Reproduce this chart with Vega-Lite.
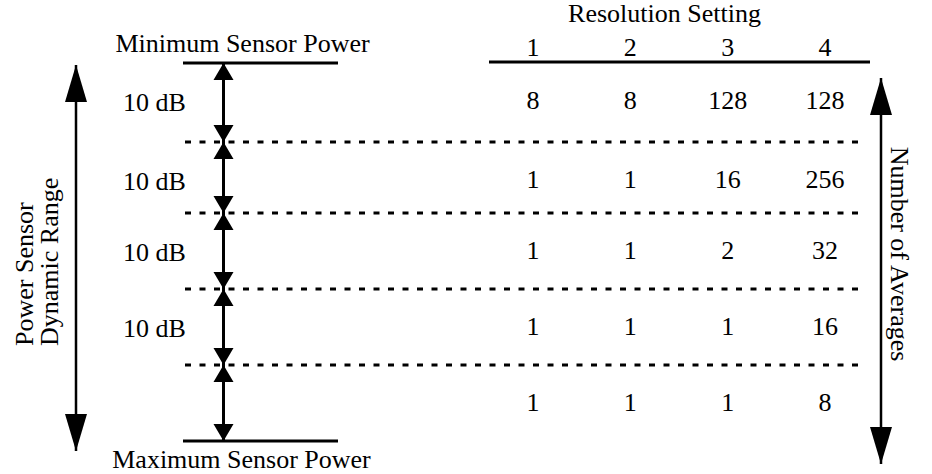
{
  "$schema": "https://vega.github.io/schema/vega-lite/v6.json",
  "width": 932,
  "height": 474,
  "padding": 0,
  "autosize": {"type": "none"},
  "background": "white",
  "config": {
    "view": {"stroke": null},
    "text": {"font": "Liberation Serif", "fontSize": 26, "color": "black"},
    "rule": {"color": "black"},
    "point": {"color": "black", "filled": true, "opacity": 1, "strokeWidth": 0}
  },
  "datasets": {
    "averages": [
      {"setting": 1, "from_dB": 0, "averages": 8},
      {"setting": 2, "from_dB": 0, "averages": 8},
      {"setting": 3, "from_dB": 0, "averages": 128},
      {"setting": 4, "from_dB": 0, "averages": 128},
      {"setting": 1, "from_dB": 10, "averages": 1},
      {"setting": 2, "from_dB": 10, "averages": 1},
      {"setting": 3, "from_dB": 10, "averages": 16},
      {"setting": 4, "from_dB": 10, "averages": 256},
      {"setting": 1, "from_dB": 20, "averages": 1},
      {"setting": 2, "from_dB": 20, "averages": 1},
      {"setting": 3, "from_dB": 20, "averages": 2},
      {"setting": 4, "from_dB": 20, "averages": 32},
      {"setting": 1, "from_dB": 30, "averages": 1},
      {"setting": 2, "from_dB": 30, "averages": 1},
      {"setting": 3, "from_dB": 30, "averages": 1},
      {"setting": 4, "from_dB": 30, "averages": 16},
      {"setting": 1, "from_dB": 40, "averages": 1},
      {"setting": 2, "from_dB": 40, "averages": 1},
      {"setting": 3, "from_dB": 40, "averages": 1},
      {"setting": 4, "from_dB": 40, "averages": 8}
    ],
    "steps": [
      {"from_dB": 0, "to_dB": 10, "label": "10 dB"},
      {"from_dB": 10, "to_dB": 20, "label": "10 dB"},
      {"from_dB": 20, "to_dB": 30, "label": "10 dB"},
      {"from_dB": 30, "to_dB": 40, "label": "10 dB"},
      {"from_dB": 40, "to_dB": 50, "label": null}
    ],
    "limits": [
      {"label": "Minimum Sensor Power", "dB": 0},
      {"label": "Maximum Sensor Power", "dB": 50}
    ],
    "arrows": [
      {"name": "Power Sensor Dynamic Range", "from_dB": 0, "to_dB": 50},
      {"name": "Number of Averages", "from_dB": 0, "to_dB": 50}
    ],
    "axisLabels": [
      {"side": "left", "line": 1, "text": "Power Sensor"},
      {"side": "left", "line": 2, "text": "Dynamic Range"},
      {"side": "right", "line": 1, "text": "Number of Averages"}
    ],
    "heading": [{"text": "Resolution Setting"}]
  },
  "resolve": {"scale": {"x": "independent"}},
  "layer": [
    {
      "data": {"name": "steps"},
      "transform": [{"filter": "datum.to_dB < 50"}],
      "mark": {"type": "rule", "strokeDash": [6, 8.5], "strokeWidth": 3},
      "encoding": {
        "x": {"datum": 0, "type": "quantitative", "scale": {"domain": [0, 1], "range": [185, 864]}, "axis": null},
        "x2": {"datum": 1},
        "y": {"field": "to_dB", "type": "quantitative", "scale": {"domain": [0, 10, 20, 30, 40, 50], "range": [63, 142, 213, 289, 365, 441], "nice": false, "zero": false}, "axis": null}
      }
    },
    {
      "data": {"name": "limits"},
      "mark": {"type": "rule", "strokeWidth": 3},
      "encoding": {
        "x": {"datum": 0, "type": "quantitative", "scale": {"domain": [0, 1], "range": [183, 338]}, "axis": null},
        "x2": {"datum": 1},
        "y": {"field": "dB", "type": "quantitative", "axis": null}
      }
    },
    {
      "data": {"name": "heading"},
      "mark": {"type": "rule", "strokeWidth": 3, "yOffset": -1},
      "encoding": {
        "x": {"datum": 0, "type": "quantitative", "scale": {"domain": [0, 1], "range": [489, 870]}, "axis": null},
        "x2": {"datum": 1},
        "y": {"datum": 0, "type": "quantitative", "axis": null}
      }
    },
    {
      "data": {"name": "steps"},
      "mark": {"type": "rule", "strokeWidth": 3},
      "encoding": {
        "x": {"datum": 0, "type": "quantitative", "scale": {"domain": [0, 1], "range": [223.5, 223.5]}, "axis": null},
        "y": {"field": "from_dB", "type": "quantitative", "axis": null},
        "y2": {"field": "to_dB"}
      }
    },
    {
      "data": {"name": "steps"},
      "transform": [{"fold": ["from_dB", "to_dB"], "as": ["end", "dB"]}],
      "mark": {"type": "point", "size": 100},
      "encoding": {
        "x": {"datum": 0, "type": "quantitative", "scale": {"domain": [0, 1], "range": [223.5, 223.5]}, "axis": null},
        "y": {"field": "dB", "type": "quantitative", "axis": null},
        "shape": {"field": "end", "type": "nominal", "scale": {"domain": ["from_dB", "to_dB"], "range": ["M0,0L2,3.4L-2,3.4Z", "M0,0L2,-3.4L-2,-3.4Z"]}, "legend": null}
      }
    },
    {
      "data": {"name": "arrows"},
      "transform": [{"filter": "datum.name == 'Power Sensor Dynamic Range'"}],
      "mark": {"type": "rule", "strokeWidth": 2.5, "yOffset": 2, "y2Offset": 10},
      "encoding": {
        "x": {"datum": 0, "type": "quantitative", "scale": {"domain": [0, 1], "range": [76, 76]}, "axis": null},
        "y": {"field": "from_dB", "type": "quantitative", "axis": null},
        "y2": {"field": "to_dB"}
      }
    },
    {
      "data": {"name": "arrows"},
      "transform": [{"filter": "datum.name == 'Power Sensor Dynamic Range'"}],
      "mark": {"type": "point", "size": 100, "shape": "M0,0L2.2,7.4L-2.2,7.4Z", "yOffset": 2},
      "encoding": {
        "x": {"datum": 0, "type": "quantitative", "scale": {"domain": [0, 1], "range": [76, 76]}, "axis": null},
        "y": {"field": "from_dB", "type": "quantitative", "axis": null}
      }
    },
    {
      "data": {"name": "arrows"},
      "transform": [{"filter": "datum.name == 'Power Sensor Dynamic Range'"}],
      "mark": {"type": "point", "size": 100, "shape": "M0,0L2.2,-7.4L-2.2,-7.4Z", "yOffset": 10},
      "encoding": {
        "x": {"datum": 0, "type": "quantitative", "scale": {"domain": [0, 1], "range": [76, 76]}, "axis": null},
        "y": {"field": "to_dB", "type": "quantitative", "axis": null}
      }
    },
    {
      "data": {"name": "arrows"},
      "transform": [{"filter": "datum.name == 'Number of Averages'"}],
      "mark": {"type": "rule", "strokeWidth": 2.5, "yOffset": 15, "y2Offset": 23},
      "encoding": {
        "x": {"datum": 0, "type": "quantitative", "scale": {"domain": [0, 1], "range": [881, 881]}, "axis": null},
        "y": {"field": "from_dB", "type": "quantitative", "axis": null},
        "y2": {"field": "to_dB"}
      }
    },
    {
      "data": {"name": "arrows"},
      "transform": [{"filter": "datum.name == 'Number of Averages'"}],
      "mark": {"type": "point", "size": 100, "shape": "M0,0L2.2,7.4L-2.2,7.4Z", "yOffset": 15},
      "encoding": {
        "x": {"datum": 0, "type": "quantitative", "scale": {"domain": [0, 1], "range": [881, 881]}, "axis": null},
        "y": {"field": "from_dB", "type": "quantitative", "axis": null}
      }
    },
    {
      "data": {"name": "arrows"},
      "transform": [{"filter": "datum.name == 'Number of Averages'"}],
      "mark": {"type": "point", "size": 100, "shape": "M0,0L2.2,-7.4L-2.2,-7.4Z", "yOffset": 23},
      "encoding": {
        "x": {"datum": 0, "type": "quantitative", "scale": {"domain": [0, 1], "range": [881, 881]}, "axis": null},
        "y": {"field": "to_dB", "type": "quantitative", "axis": null}
      }
    },
    {
      "data": {"name": "heading"},
      "mark": {"type": "text", "align": "center", "baseline": "alphabetic", "yOffset": -41},
      "encoding": {
        "x": {"datum": 0, "type": "quantitative", "scale": {"domain": [0, 1], "range": [664.5, 664.5]}, "axis": null},
        "y": {"datum": 0, "type": "quantitative", "axis": null},
        "text": {"field": "text", "type": "nominal"}
      }
    },
    {
      "data": {"name": "averages"},
      "transform": [{"filter": "datum.from_dB == 0"}],
      "mark": {"type": "text", "align": "center", "baseline": "alphabetic", "yOffset": -7.5},
      "encoding": {
        "x": {"field": "setting", "type": "quantitative", "scale": {"domain": [1, 4], "range": [533, 825]}, "axis": null},
        "y": {"datum": 0, "type": "quantitative", "axis": null},
        "text": {"field": "setting", "type": "nominal"}
      }
    },
    {
      "data": {"name": "averages"},
      "mark": {"type": "text", "align": "center", "baseline": "middle", "yOffset": 38},
      "encoding": {
        "x": {"field": "setting", "type": "quantitative", "scale": {"domain": [1, 4], "range": [533, 825]}, "axis": null},
        "y": {"field": "from_dB", "type": "quantitative", "axis": null},
        "text": {"field": "averages", "type": "nominal"}
      }
    },
    {
      "data": {"name": "steps"},
      "transform": [{"filter": "datum.label != null"}],
      "mark": {"type": "text", "align": "center", "baseline": "middle", "yOffset": 40},
      "encoding": {
        "x": {"datum": 0, "type": "quantitative", "scale": {"domain": [0, 1], "range": [154.5, 154.5]}, "axis": null},
        "y": {"field": "from_dB", "type": "quantitative", "axis": null},
        "text": {"field": "label", "type": "nominal"}
      }
    },
    {
      "data": {"name": "limits"},
      "transform": [{"filter": "datum.dB == 0"}],
      "mark": {"type": "text", "align": "center", "baseline": "alphabetic", "yOffset": -11},
      "encoding": {
        "x": {"datum": 0, "type": "quantitative", "scale": {"domain": [0, 1], "range": [242.5, 242.5]}, "axis": null},
        "y": {"field": "dB", "type": "quantitative", "axis": null},
        "text": {"field": "label", "type": "nominal"}
      }
    },
    {
      "data": {"name": "limits"},
      "transform": [{"filter": "datum.dB == 50"}],
      "mark": {"type": "text", "align": "center", "baseline": "alphabetic", "yOffset": 27},
      "encoding": {
        "x": {"datum": 0, "type": "quantitative", "scale": {"domain": [0, 1], "range": [241.5, 241.5]}, "axis": null},
        "y": {"field": "dB", "type": "quantitative", "axis": null},
        "text": {"field": "label", "type": "nominal"}
      }
    },
    {
      "data": {"name": "axisLabels"},
      "transform": [{"filter": "datum.side == 'left'"}],
      "mark": {"type": "text", "align": "left", "baseline": "alphabetic", "angle": 270, "yOffset": -95},
      "encoding": {
        "x": {"field": "line", "type": "quantitative", "scale": {"domain": [1, 2], "range": [32.5, 57.5]}, "axis": null},
        "y": {"datum": 50, "type": "quantitative", "axis": null},
        "text": {"field": "text", "type": "nominal"}
      }
    },
    {
      "data": {"name": "axisLabels"},
      "transform": [{"filter": "datum.side == 'right'"}],
      "mark": {"type": "text", "align": "center", "baseline": "alphabetic", "angle": 90, "yOffset": 3},
      "encoding": {
        "x": {"datum": 0, "type": "quantitative", "scale": {"domain": [0, 1], "range": [891, 891]}, "axis": null},
        "y": {"datum": 25, "type": "quantitative", "axis": null},
        "text": {"field": "text", "type": "nominal"}
      }
    }
  ]
}
